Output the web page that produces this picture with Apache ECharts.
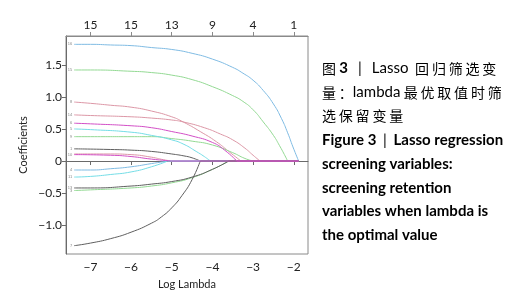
<!DOCTYPE html>
<html>
<head>
<meta charset="utf-8">
<script src="https://cdn.jsdelivr.net/npm/echarts@6/dist/echarts.min.js"></script>
<style>
  html, body { margin: 0; padding: 0; background: #fff; }
  #main { width: 512px; height: 302px; }
</style>
</head>
<body>
<div id="main"></div>
<script>
// tick positions and labels
const xTicks = [-7, -6, -5, -4, -3, -2];
const topCounts = ['15', '15', '13', '9', '4', '1'];
const yTicks = [-1, -0.5, 0, 0.5, 1, 1.5];
const lamEnd = -1.88;

// coefficient paths: [log lambda, coefficient]
const v16 = [[-7.4,1.82],[-7,1.82],[-6.5,1.81],[-6,1.80],[-5.5,1.77],[-5,1.74],[-4.5,1.68],[-4,1.59],[-3.5,1.46],[-3.25,1.37],[-3,1.26],[-2.75,1.1],[-2.5,0.89],[-2.3,0.66],[-2.15,0.44],[-2.02,0.22],[-1.88,0]];
const v15 = [[-7.4,1.42],[-7,1.42],[-6,1.40],[-5.5,1.38],[-5,1.34],[-4.5,1.27],[-4,1.16],[-3.5,1.02],[-3.25,0.93],[-3,0.8],[-2.75,0.61],[-2.5,0.4],[-2.35,0.24],[-2.23,0.1],[-2.15,0]];
const v8 = [[-7.4,0.92],[-7,0.9],[-6.5,0.87],[-6,0.84],[-5.5,0.78],[-5,0.69],[-4.72,0.61],[-4.3,0.46],[-3.9,0.3],[-3.6,0.15],[-3.3,0]];
const v14 = [[-7.4,0.72],[-7,0.71],[-6,0.69],[-5.5,0.67],[-5,0.64],[-4.72,0.61],[-4.2,0.52],[-3.8,0.42],[-3.5,0.33],[-3.2,0.2],[-3,0.09],[-2.83,0]];
const v6 = [[-7.4,0.59],[-7,0.58],[-6,0.55],[-5.5,0.52],[-5,0.46],[-4.5,0.39],[-4,0.29],[-3.7,0.17],[-3.4,0]];
const v5 = [[-7.4,0.5],[-7,0.49],[-6,0.45],[-5.5,0.4],[-5,0.33],[-4.7,0.26],[-4.4,0.15],[-4.2,0.07],[-4.05,0]];
const v9 = [[-7.4,0.38],[-7,0.38],[-6,0.38],[-5.5,0.38],[-5,0.35],[-4.5,0.31],[-4,0.25],[-3.5,0.13],[-3.2,0.04],[-3.0,0]];
const v1 = [[-7.4,0.19],[-6.5,0.18],[-6,0.17],[-5.5,0.15],[-5,0.11],[-4.7,0.08],[-4.5,0.05],[-4.3,0]];
const v10 = [[-7.4,0.1],[-6.5,0.09],[-6,0.07],[-5.5,0.03],[-5.0,0]];
const v12 = [[-7.4,0.11],[-6.5,0.11],[-6,0.1],[-5.5,0.06],[-5.2,0.02],[-5.0,0]];
const v4 = [[-7.4,-0.14],[-7,-0.14],[-6.5,-0.12],[-6,-0.09],[-5.5,-0.04],[-5.1,0]];
const v11 = [[-7.4,-0.25],[-7,-0.24],[-6.5,-0.21],[-6,-0.17],[-5.5,-0.09],[-5.1,0]];
const v13 = [[-7.4,-0.42],[-7,-0.42],[-6,-0.39],[-5.5,-0.36],[-5,-0.32],[-4.5,-0.25],[-4,-0.13],[-3.6,0]];
const v3 = [[-7.4,-0.46],[-7,-0.45],[-6,-0.42],[-5.5,-0.39],[-5,-0.34],[-4.5,-0.26],[-4,-0.13],[-3.6,0]];
const v7 = [[-7.4,-1.32],[-7,-1.28],[-6.5,-1.21],[-6,-1.11],[-5.5,-0.97],[-5.25,-0.87],[-5,-0.73],[-4.75,-0.54],[-4.5,-0.29],[-4.3,0]];

const blue = '#7fbbe3', green = '#93d993', pink = '#dc97a6', magenta = '#d24ec6', cyan = '#74dde6', dark = '#5f5f5f';

// name, path, colour, show small label
const lines = [
  ['16', v16, blue, true],
  ['15', v15, green, true],
  ['8', v8, pink, true],
  ['14', v14, pink, true],
  ['9', v9, green, true],
  ['5', v5, cyan, true],
  ['1', v1, dark, true],
  ['12', v12, pink, false],
  ['4', v4, blue, true],
  ['11', v11, cyan, true],
  ['3', v3, green, true],
  ['13', v13, dark, true],
  ['7', v7, dark, true],
  ['6', v6, magenta, true],
  ['10', v10, magenta, true]
];

const minus = v => String(v).replace('-', '\u2212');

const series = [];
lines.forEach(([name, path, color, lab]) => {
  const data = path.map((p, i) => (i === 0 && lab) ? { value: p, label: { show: true } } : { value: p });
  series.push({
    name: name,
    type: 'line',
    data: data,
    smooth: 0.55,
    symbol: 'circle',
    symbolSize: 0,
    showSymbol: true,
    lineStyle: { color: color, width: 1 },
    itemStyle: { color: color },
    label: { show: false, position: 'left', distance: 2, formatter: name, fontSize: 4, color: '#888' },
    emphasis: { disabled: true },
    z: 3
  });
  // after the coefficient hits zero it stays there
  const last = path[path.length - 1];
  if (last[0] < lamEnd) {
    series.push({
      type: 'line',
      data: [last, [lamEnd, 0]],
      symbol: 'none',
      lineStyle: { color: color, width: 1 },
      emphasis: { disabled: true },
      z: 3
    });
  }
});

var myChart = echarts.init(document.getElementById('main'));

var option = {
  animation: false,
  grid: {
    left: 66, right: 204, top: 36, bottom: 48,
    show: true, borderColor: '#8a8a8a', borderWidth: 1
  },
  xAxis: [
    {
      type: 'value', position: 'bottom',
      min: -7.6, max: -1.65,
      name: 'Log Lambda', nameLocation: 'middle', nameGap: 25,
      nameTextStyle: { fontFamily: 'Lato', fontSize: 11, color: '#222' },
      axisLine: { lineStyle: { color: '#6a6a6a' } },
      axisTick: { show: true, length: 4, customValues: xTicks, lineStyle: { color: '#6a6a6a' } },
      axisLabel: { customValues: xTicks, formatter: v => minus(v), fontFamily: 'Lato', fontSize: 12, color: '#222', margin: 7 },
      splitLine: { show: false }
    },
    {
      type: 'value', position: 'top',
      min: -7.6, max: -1.65,
      axisLine: { lineStyle: { color: '#8a8a8a' } },
      axisTick: { show: true, length: 4, customValues: xTicks, lineStyle: { color: '#8a8a8a' } },
      axisLabel: {
        customValues: xTicks,
        formatter: v => topCounts[xTicks.indexOf(Math.round(v))],
        fontFamily: 'Lato', fontSize: 12, color: '#222', margin: 5
      },
      splitLine: { show: false }
    }
  ],
  yAxis: {
    type: 'value',
    min: -1.45, max: 1.95,
    name: 'Coefficients', nameLocation: 'middle', nameGap: 37,
    nameTextStyle: { fontFamily: 'Lato', fontSize: 11, color: '#222' },
    axisLine: { show: true, lineStyle: { color: '#6a6a6a' } },
    axisTick: { show: true, length: 4, customValues: yTicks, lineStyle: { color: '#6a6a6a' } },
    axisLabel: {
      customValues: yTicks,
      formatter: v => v === 0 ? '0' : minus(v.toFixed(1)),
      fontFamily: 'Lato', fontSize: 12, color: '#222', margin: 4
    },
    splitLine: { show: false }
  },
  series: series,
  graphic: (function () {
    const cn = 'Noto Sans CJK SC';
    const en = 'Lato';
    const sp = '\u2009';
    const spaced = s => s.split('').join(sp);
    const rich = {
      c: { fontFamily: cn, fontSize: 14, color: '#222' },
      n: { fontFamily: en, fontSize: 15, color: '#222' },
      b: { fontFamily: en, fontSize: 15, fontWeight: 'bold', color: '#111' },
      o: { fontFamily: en, fontSize: 15, color: '#e8993a' }
    };
    const rows = [
      ['{c|图} {b|3}   {o||}   {n|Lasso}  {c|' + spaced('回归筛选变') + '}', 70],
      ['{c|' + spaced('量：') + '}{n|lambda} {c|' + spaced('最优取值时筛') + '}', 94],
      ['{c|' + spaced('选保留变量') + '}', 118],
      ['{b|Figure 3}  {o||}  {b|Lasso regression}', 142],
      ['{b|screening variables:}', 166],
      ['{b|screening retention}', 190],
      ['{b|variables when lambda is}', 213],
      ['{b|the optimal value}', 237]
    ];
    return rows.map(r => ({
      type: 'text',
      left: 322,
      top: r[1] - 9,
      style: { text: r[0], rich: rich, verticalAlign: 'top' }
    }));
  })()
};

myChart.setOption(option);
</script>
</body>
</html>
